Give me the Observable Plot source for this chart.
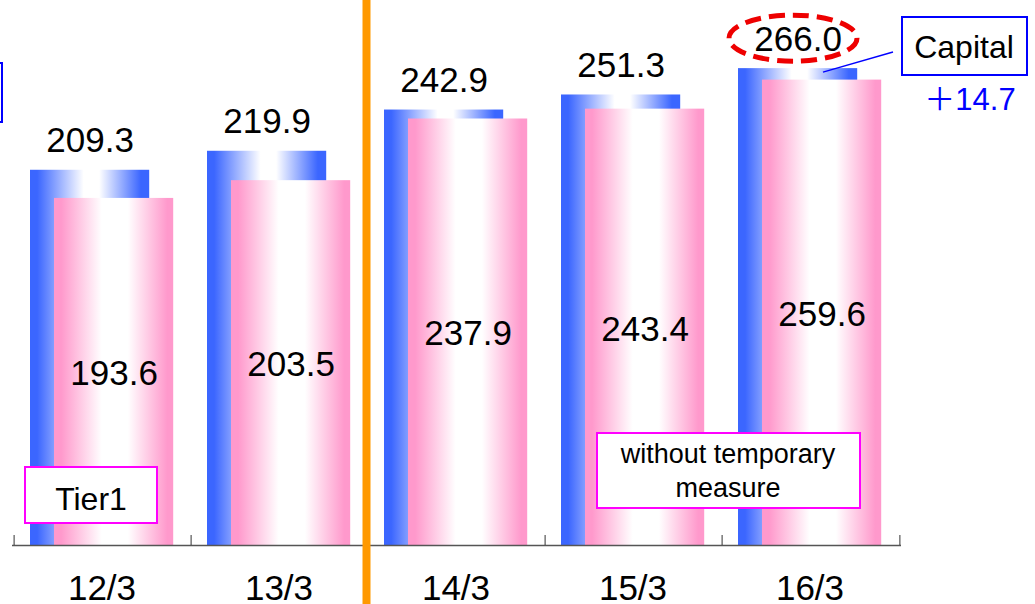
<!DOCTYPE html>
<html><head><meta charset="utf-8">
<script src="https://cdn.jsdelivr.net/npm/d3@7"></script>
<script src="https://cdn.jsdelivr.net/npm/@observablehq/plot@0.6"></script>
<style>
html,body{margin:0;padding:0;background:#fff;overflow:hidden}
#chart{position:relative;width:1035px;height:604px}
</style></head><body><div id="chart"></div>
<script>
const categories = ["12/3", "13/3", "14/3", "15/3", "16/3"];
const capital = [209.3, 219.9, 242.9, 251.3, 266.0];
const tier1 = [193.6, 203.5, 237.9, 243.4, 259.6];
const capitalChangeLabel = "＋14.7";
const seriesLabels = ["Capital", "Tier1"];
const noteLines = ["without temporary", "measure"];

const data = categories.map((c, i) => ({period: c, capital: capital[i], tier1: tier1[i]}));

const W = 1035, H = 604, mL = 12, mR = 134, mB = 59;
const step = (W - mL - mR) / categories.length;
const barW = 120;
const yMax = 304;
const font = "'Liberation Sans', Arial, Helvetica, sans-serif";

const plot = Plot.plot({
  width: W, height: H,
  marginTop: 0, marginBottom: mB, marginLeft: mL, marginRight: mR,
  style: {fontFamily: font, background: "#fff", overflow: "visible", color: "#000"},
  x: {type: "band", domain: categories, padding: 0},
  y: {domain: [0, yMax], axis: null},
  marks: [
    Plot.barY(data, {x: "period", y: "capital", fill: "url(#gBlue)", insetLeft: 16, insetRight: step - 16 - barW}),
    Plot.barY(data, {x: "period", y: "tier1", fill: "url(#gPink)", insetLeft: 40, insetRight: step - 40 - barW}),
    Plot.ruleY([0], {stroke: "#555", strokeWidth: 1.5}),
    Plot.ruleX(categories, {x: d => d, dx: -step / 2, stroke: "#333", strokeWidth: 1, insetTop: H - mB - 10}),
    Plot.ruleX(categories.slice(-1), {x: d => d, dx: step / 2, stroke: "#333", strokeWidth: 1, insetTop: H - mB - 10}),
    Plot.ruleX(categories.slice(2, 3), {x: d => d, dx: -step / 2 - 1.6, stroke: "#ff9900", strokeWidth: 8, insetBottom: -mB}),
    Plot.text(data, {x: "period", y: "capital", text: d => d.capital.toFixed(1), dx: 16 + barW / 2 - step / 2, dy: -29, fontSize: 35, fill: "#000"}),
    Plot.text(data, {x: "period", y: d => d.tier1 / 2, text: d => d.tier1.toFixed(1), dx: 40 + barW / 2 - step / 2, dy: 2, fontSize: 35, fill: "#000"}),
    Plot.axisX({tickSize: 0, tickPadding: 30, fontSize: 35, label: null, fill: "#000", dx: -1})
  ]
});

const svg = d3.select(plot);
const defs = svg.insert("defs", ":first-child");
function grad(id, color, stops) {
  const g = defs.append("linearGradient").attr("id", id).attr("x1", "0%").attr("x2", "100%").attr("y1", "0%").attr("y2", "0%");
  stops.forEach(([o, white]) =>
    g.append("stop").attr("offset", o).attr("stop-color", white ? "#ffffff" : color));
}
grad("gBlue", "#3b66ff", [[0, 0], [0.06, 0], [0.45, 1], [0.58, 1], [0.93, 0], [1, 0]]);
grad("gPink", "#ff99cc", [[0, 0], [0.06, 0], [0.4, 1], [0.62, 1], [0.95, 0], [1, 0]]);

const xs = plot.scale("x"), ys = plot.scale("y");
const last = categories.length - 1;
const blueCenter = xs.apply(categories[last]) + 16 + barW / 2;
const topY = ys.apply(capital[last]);

const ann = svg.append("g").attr("font-family", font);
// dashed ellipse around the latest capital value
ann.append("ellipse").attr("cx", blueCenter - 5).attr("cy", topY - 30).attr("rx", 64).attr("ry", 23)
  .attr("fill", "none").attr("stroke", "#ee0000").attr("stroke-width", 5).attr("stroke-dasharray", "16,8");
// leader line
ann.append("line").attr("x1", 893).attr("y1", 52).attr("x2", blueCenter + 25).attr("y2", topY + 4)
  .attr("stroke", "#0000ff").attr("stroke-width", 1.5);
// Capital box
ann.append("rect").attr("x", 902).attr("y", 17).attr("width", 125).attr("height", 58)
  .attr("fill", "#fff").attr("stroke", "#0000ff").attr("stroke-width", 2);
ann.append("text").attr("x", 964).attr("y", 58).attr("text-anchor", "middle").attr("font-size", 32).text(seriesLabels[0]);
ann.append("text").attr("x", 970).attr("y", 110).attr("text-anchor", "middle").attr("font-size", 31)
  .attr("font-family", "'Liberation Sans', 'Noto Sans CJK JP', sans-serif").attr("fill", "#0000ff").text(capitalChangeLabel);
// clipped blue box at the left edge
ann.append("rect").attr("x", -20).attr("y", 63).attr("width", 22).attr("height", 59)
  .attr("fill", "none").attr("stroke", "#0000ff").attr("stroke-width", 2);
// Tier1 box
ann.append("rect").attr("x", 25).attr("y", 467).attr("width", 132).attr("height", 56)
  .attr("fill", "#fff").attr("stroke", "#ff00ff").attr("stroke-width", 2);
ann.append("text").attr("x", 91).attr("y", 510).attr("text-anchor", "middle").attr("font-size", 32).text(seriesLabels[1]);
// note box
ann.append("rect").attr("x", 597).attr("y", 433).attr("width", 263).attr("height", 75)
  .attr("fill", "#fff").attr("stroke", "#ff00ff").attr("stroke-width", 2);
noteLines.forEach((t, i) => ann.append("text").attr("x", 728).attr("y", 463 + i * 34).attr("text-anchor", "middle").attr("font-size", 27).text(t));

document.getElementById("chart").appendChild(plot);
</script></body></html>
